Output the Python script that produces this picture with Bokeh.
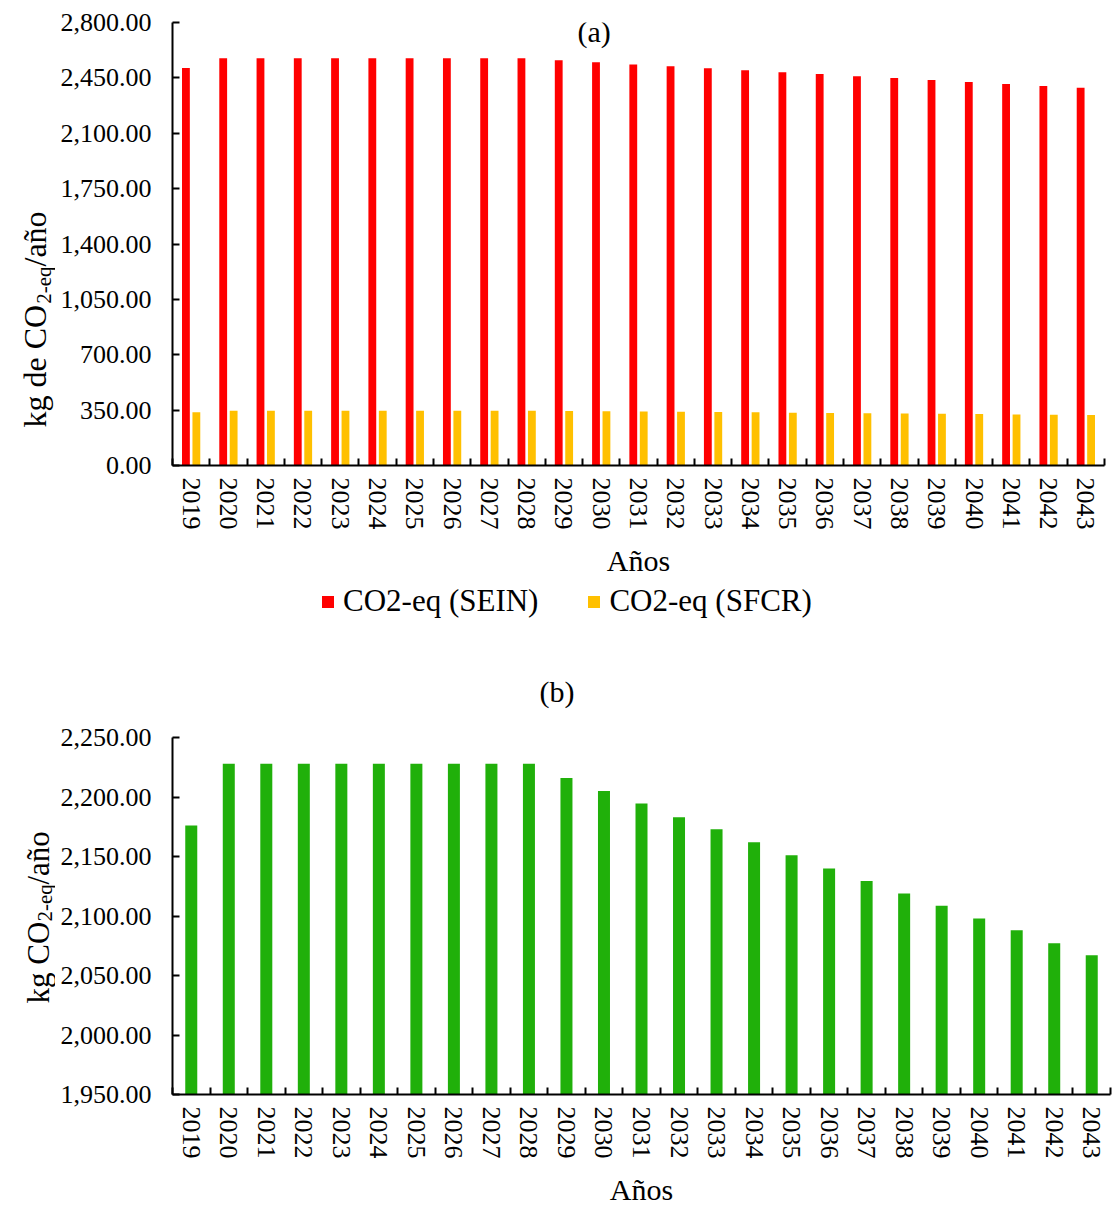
from math import pi
from bokeh.plotting import figure
from bokeh.models import (Range1d, FixedTicker, NumeralTickFormatter, Label,
                          Legend, LegendItem, ColumnDataSource, Title)
from bokeh.core.properties import value
from bokeh.transform import dodge
from bokeh.layouts import column, row
from bokeh.embed import file_html
from bokeh.resources import INLINE

# ---------------- data ----------------
years = [2019, 2020, 2021, 2022, 2023, 2024, 2025, 2026, 2027, 2028, 2029, 2030,
         2031, 2032, 2033, 2034, 2035, 2036, 2037, 2038, 2039, 2040, 2041, 2042, 2043]
sein = [2513, 2574, 2574, 2574, 2574, 2574, 2574, 2574, 2574, 2574, 2561, 2549,
        2534, 2523, 2511, 2498, 2485, 2475, 2460, 2449, 2437, 2424, 2411, 2399, 2388]
sfcr = [337, 346, 346, 346, 346, 346, 346, 346, 346, 346, 345, 343,
        341, 340, 338, 336, 334, 332, 330, 329, 327, 325, 323, 321, 319]
avoided = [2176, 2228, 2228, 2228, 2228, 2228, 2228, 2228, 2228, 2228, 2216, 2205,
           2194.5, 2183, 2173, 2162, 2151, 2140, 2129.5, 2119, 2108.6, 2098, 2088, 2077, 2067]
yticks_a = [0, 350, 700, 1050, 1400, 1750, 2100, 2450, 2800]
yticks_b = [1950, 2000, 2050, 2100, 2150, 2200, 2250]
label_sein = "CO2-eq (SEIN)"
label_sfcr = "CO2-eq (SFCR)"
color_sein = "#FF0000"
color_sfcr = "#FFC000"
color_avoided = "#20B00A"

FONT = "Liberation Serif"
boundaries = [y - 0.5 for y in years] + [years[-1] + 0.5]

H1, HL, H2 = 580, 60, 568   # top chart, legend strip, bottom chart
TW = 55                     # width of the strip holding the y-axis titles
PW = 1112 - TW
TOTAL_W = TW + PW
FRAME_LEFT = 172


def bare(width, height):
    f = figure(width=width, height=height, x_range=Range1d(0, width),
               y_range=Range1d(0, height), output_backend="svg", title=None,
               toolbar_location=None, x_axis_location=None, y_axis_location=None,
               min_border_left=0, min_border_right=0, min_border_top=0,
               min_border_bottom=0)
    f.frame_align = False
    f.outline_line_color = None
    f.xgrid.visible = False
    f.ygrid.visible = False
    return f


def style(p, yticks):
    p.frame_align = False
    p.outline_line_color = None
    p.xgrid.visible = False
    p.ygrid.visible = False
    xa = p.xaxis[0]
    xa.ticker = FixedTicker(ticks=years, minor_ticks=boundaries)
    xa.major_tick_in = 0
    xa.major_tick_out = 0
    xa.minor_tick_in = 7
    xa.minor_tick_out = 0
    xa.minor_tick_line_width = 2
    xa.minor_tick_line_color = "black"
    xa.axis_line_width = 2
    xa.axis_line_color = "black"
    xa.major_label_orientation = "vertical"
    xa.major_label_text_font = FONT
    xa.major_label_text_font_size = "26px"
    xa.major_label_text_color = "black"
    xa.major_label_standoff = 12
    xa.axis_label = "Años"
    xa.axis_label_text_font = FONT
    xa.axis_label_text_font_size = "30px"
    xa.axis_label_text_font_style = "normal"
    xa.axis_label_text_color = "black"
    xa.axis_label_standoff = 11
    ya = p.yaxis[0]
    ya.ticker = FixedTicker(ticks=yticks)
    ya.formatter = NumeralTickFormatter(format="0,0.00")
    ya.major_tick_in = 7
    ya.major_tick_out = 0
    ya.major_tick_line_width = 2
    ya.major_tick_line_color = "black"
    ya.minor_tick_line_color = None
    ya.axis_line_width = 2
    ya.axis_line_color = "black"
    ya.major_label_text_font = FONT
    ya.major_label_text_font_size = "26px"
    ya.major_label_text_color = "black"
    ya.major_label_standoff = 21


def title_strip(height, pieces):
    """Narrow figure carrying the rotated y-axis title (with subscript)."""
    t = bare(TW, height)
    for txt, sx, sy, size in pieces:
        t.text(x=[sx], y=[height - sy], text=[txt], angle=pi / 2,
               text_font=value(FONT), text_font_size=value(size),
               text_align="left", text_baseline="alphabetic", text_color="black")
    return t


src = ColumnDataSource(dict(year=years, sein=sein, sfcr=sfcr, avoided=avoided))

# ---------------- chart (a) ----------------
p1 = figure(width=PW, height=H1, x_range=Range1d(2018.5, 2043.5),
            y_range=Range1d(0, 2800), output_backend="svg", toolbar_location=None,
            title=None, min_border_left=FRAME_LEFT - TW, min_border_right=8,
            min_border_top=22, min_border_bottom=H1 - 465)
style(p1, yticks_a)

p1.vbar(x=dodge("year", -0.14, range=p1.x_range), top="sein", width=0.21,
        source=src, fill_color=color_sein, line_color=None)
p1.vbar(x=dodge("year", 0.14, range=p1.x_range), top="sfcr", width=0.21,
        source=src, fill_color=color_sfcr, line_color=None)

p1.add_layout(Label(x=2029.81, y=2740, text="(a)", text_font=FONT,
                    text_font_size="30px", text_align="center",
                    text_baseline="middle", text_color="black"))

t1 = title_strip(H1, [("kg de CO", 34, 427, "32px"),
                      ("2-eq", 43, 303.3, "21px"),
                      ("/año", 34, 266, "32px")])

# ---------------- legend strip ----------------
# the strip's own renderers use the same data; their bars fall outside its
# visible x range, so only the legend keys show
lg = bare(TOTAL_W, HL)
k1 = lg.vbar(x="year", top="sein", width=0.21, source=src,
             fill_color=color_sein, line_color=None)
k2 = lg.vbar(x="year", top="sfcr", width=0.21, source=src,
             fill_color=color_sfcr, line_color=None)
legend = Legend(items=[LegendItem(label=label_sein, renderers=[k1]),
                       LegendItem(label=label_sfcr, renderers=[k2])],
                location=(320, 21), orientation="horizontal", padding=0,
                margin=0, spacing=48, label_standoff=8, glyph_width=15,
                glyph_height=15, label_height=30, label_text_font=FONT,
                label_text_font_size="31px", label_text_color="black",
                border_line_color=None, background_fill_alpha=0)
lg.add_layout(legend)

# ---------------- chart (b) ----------------
p2 = figure(width=PW, height=H2, x_range=Range1d(2018.5, 2043.5),
            y_range=Range1d(1950, 2250), output_backend="svg", toolbar_location=None,
            title=None, min_border_left=FRAME_LEFT - TW, min_border_right=2,
            min_border_top=97, min_border_bottom=H2 - 97 - 360)
style(p2, yticks_b)

p2.vbar(x="year", top="avoided", width=0.32, source=src,
        fill_color=color_avoided, line_color=None)

p2.add_layout(Title(text="(b)", align="left", offset=367, standoff=60,
                    text_font=FONT, text_font_size="30px",
                    text_font_style="normal", text_color="black"), "above")

Y2 = H1 + HL
t2 = title_strip(H2, [("kg CO", 38, 1003 - Y2, "31px"),
                      ("2-eq", 44, 921 - Y2, "21px"),
                      ("/año", 38, 884 - Y2, "31px")])

layout = column(row(t1, p1, spacing=0), lg, row(t2, p2, spacing=0), spacing=0)
open("out.html", "w").write(file_html(layout, INLINE))
